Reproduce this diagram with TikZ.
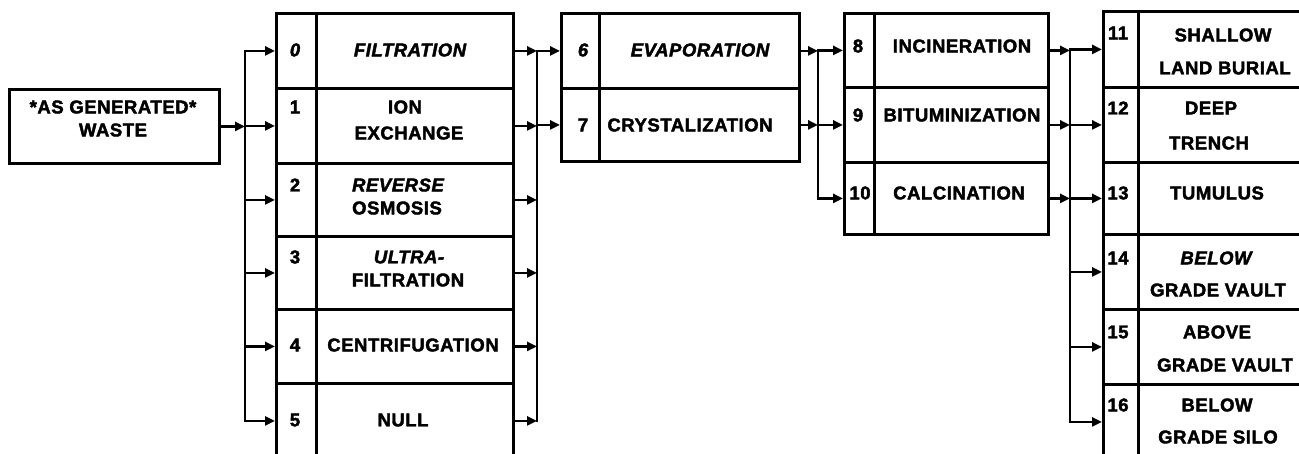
\documentclass[tikz,border=0pt]{standalone}
\usepackage{fontspec}
\setmainfont{Liberation Sans}[LetterSpace=3, BoldFeatures={FakeBold=2.2}, BoldItalicFeatures={FakeBold=2.2}]
\usetikzlibrary{arrows.meta}
\begin{document}
\begin{tikzpicture}[x=1pt,y=-1pt,
  line width=2.8pt,
  cell/.style 2 args={draw, inner sep=0pt, anchor=north west, minimum width=#1, minimum height=#2},
  txt/.style={inner sep=0pt, font=\fontsize{18.5}{20}\selectfont\bfseries},
  itx/.style={txt, font=\fontsize{18.5}{20}\selectfont\bfseries\itshape},
  arr/.style={-{Triangle[length=10pt,width=9pt]}},
  bus/.style={line cap=rect}]
\useasboundingbox (0,0) rectangle (1299,453);
\clip (0,0) rectangle (1299,453);
% source box
\node[cell={210}{74}] (w) at (8,88) {};
\node[txt] (wt1) at (113,107) {*AS GENERATED*};
\node[txt] (wt2) at (113,130) {WASTE};
% column 1
\node[cell={40}{75}] (n0) at (275,12) {};  \node[cell={197}{75}] (l0) at (315,12) {};
\node[cell={40}{75}] (n1) at (275,87) {};  \node[cell={197}{75}] (l1) at (315,87) {};
\node[cell={40}{73}] (n2) at (275,162) {}; \node[cell={197}{73}] (l2) at (315,162) {};
\node[cell={40}{73}] (n3) at (275,235) {}; \node[cell={197}{73}] (l3) at (315,235) {};
\node[cell={40}{74}] (n4) at (275,308) {}; \node[cell={197}{74}] (l4) at (315,308) {};
\node[cell={40}{75}] (n5) at (275,382) {}; \node[cell={197}{75}] (l5) at (315,382) {};
\node[itx] (t0) at (295,50) {0};
\node[txt] (t1) at (295,107) {1};
\node[txt] (t2) at (295,185) {2};
\node[txt] (t3) at (295,257) {3};
\node[txt] (t4) at (295,345) {4};
\node[txt] (t5) at (295,420) {5};
\node[itx] (s0) at (410,50) {FILTRATION};
\node[txt] (s1a) at (405,107) {ION};
\node[txt] (s1b) at (409,133) {EXCHANGE};
\node[itx] (s2a) at (398,185) {REVERSE};
\node[txt] (s2b) at (397,208) {OSMOSIS};
\node[itx] (s3a) at (409,257) {ULTRA-};
\node[txt] (s3b) at (408,280) {FILTRATION};
\node[txt] (s4) at (413,345) {CENTRIFUGATION};
\node[txt] (s5) at (403,420) {NULL};
% column 2
\node[cell={38}{75}] (n6) at (560,12) {}; \node[cell={200}{75}] (l6) at (598,12) {};
\node[cell={38}{73}] (n7) at (560,87) {}; \node[cell={200}{73}] (l7) at (598,87) {};
\node[itx] (t6) at (583,50) {6};
\node[txt] (t7) at (583,125) {7};
\node[itx] (s6) at (700,50) {EVAPORATION};
\node[txt] (s7) at (690,125) {CRYSTALIZATION};
% column 3
\node[cell={30}{74}] (n8) at (843,12) {};  \node[cell={174}{74}] (l8) at (873,12) {};
\node[cell={30}{75}] (n9) at (843,86) {};  \node[cell={174}{75}] (l9) at (873,86) {};
\node[cell={30}{72}] (n10) at (843,161) {}; \node[cell={174}{72}] (l10) at (873,161) {};
\node[txt] (t8) at (858,46) {8};
\node[txt] (t9) at (858,115) {9};
\node[txt] (t10) at (860,193) {10};
\node[txt] (s8) at (962,46) {INCINERATION};
\node[txt] (s9) at (962,115) {BITUMINIZATION};
\node[txt] (s10) at (959,193) {CALCINATION};
% column 4
\node[cell={35}{76}] (n11) at (1102,10) {};  \node[cell={180}{76}] (l11) at (1137,10) {};
\node[cell={35}{75}] (n12) at (1102,86) {};  \node[cell={180}{75}] (l12) at (1137,86) {};
\node[cell={35}{72}] (n13) at (1102,161) {}; \node[cell={180}{72}] (l13) at (1137,161) {};
\node[cell={35}{75}] (n14) at (1102,233) {}; \node[cell={180}{75}] (l14) at (1137,233) {};
\node[cell={35}{75}] (n15) at (1102,308) {}; \node[cell={180}{75}] (l15) at (1137,308) {};
\node[cell={35}{75}] (n16) at (1102,383) {}; \node[cell={180}{75}] (l16) at (1137,383) {};
\node[txt] (t11) at (1118,33) {11};
\node[txt] (t12) at (1118,108) {12};
\node[txt] (t13) at (1118,193) {13};
\node[txt] (t14) at (1118,258) {14};
\node[txt] (t15) at (1118,332) {15};
\node[txt] (t16) at (1118,405) {16};
\node[txt] (s11a) at (1223,35) {SHALLOW};
\node[txt] (s11b) at (1225,68) {LAND BURIAL};
\node[txt] (s12a) at (1211,108) {DEEP};
\node[txt] (s12b) at (1209,143) {TRENCH};
\node[txt] (s13) at (1217,193) {TUMULUS};
\node[itx] (s14a) at (1216,258) {BELOW};
\node[txt] (s14b) at (1218,290) {GRADE VAULT};
\node[txt] (s15a) at (1217,332) {ABOVE};
\node[txt] (s15b) at (1225,365) {GRADE VAULT};
\node[txt] (s16a) at (1217,405) {BELOW};
\node[txt] (s16b) at (1218,437) {GRADE SILO};
% bus coordinates
\coordinate (b1) at (245,0);
\coordinate (b2) at (537,0);
\coordinate (b3) at (818,0);
\coordinate (b4) at (1070,0);
% connectors: source -> column 1
\draw[arr] (w.east) -- (b1 |- w.east);
\draw[bus] (b1 |- n0.west) -- (b1 |- n5.west);
\foreach \i in {0,...,5} { \draw[arr] (b1 |- n\i.west) -- (n\i.west); }
% column 1 -> column 2
\foreach \i in {0,...,5} { \draw[arr] (l\i.east) -- (b2 |- l\i.east); }
\draw[bus] (b2 |- l0.east) -- (b2 |- l5.east);
\foreach \i in {6,7} { \draw[arr] (b2 |- n\i.west) -- (n\i.west); }
% column 2 -> column 3
\foreach \i in {6,7} { \draw[arr] (l\i.east) -- (b3 |- l\i.east); }
\draw[bus] (b3 |- n8.west) -- (b3 |- n10.west);
\foreach \i in {8,9,10} { \draw[arr] (b3 |- n\i.west) -- (n\i.west); }
% column 3 -> column 4
\foreach \i in {8,9,10} { \draw[arr] (l\i.east) -- (b4 |- l\i.east); }
\draw[bus] (b4 |- n11.west) -- (b4 |- n16.west);
\foreach \i in {11,...,16} { \draw[arr] (b4 |- n\i.west) -- (n\i.west); }
\end{tikzpicture}
\end{document}
